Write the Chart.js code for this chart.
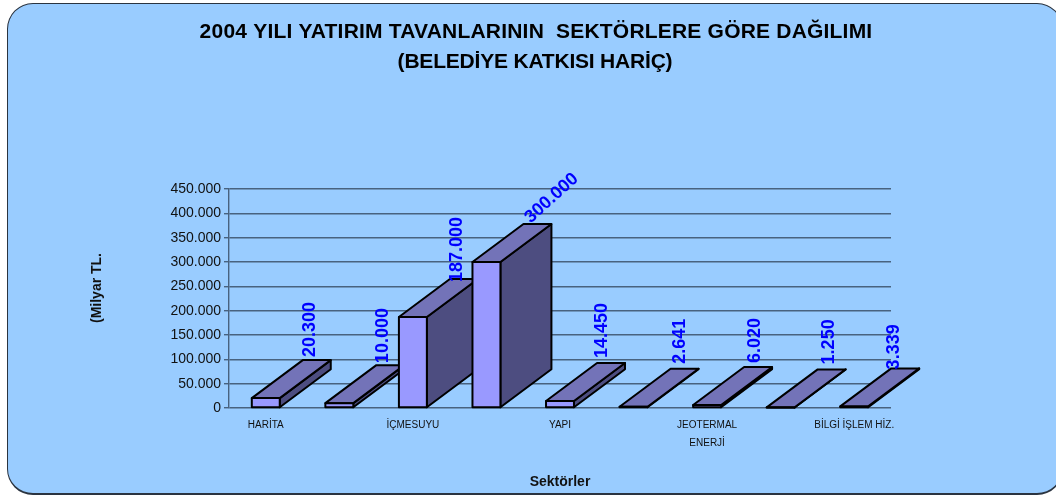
<!DOCTYPE html>
<html>
<head>
<meta charset="utf-8">
<script src="https://cdn.jsdelivr.net/npm/chart.js@4"></script>
<style>
  html, body { margin: 0; background: #fff; overflow: hidden; }
  #card {
    position: absolute; left: 7px; top: 3px; width: 1054px; height: 489px;
    background: #99ccff; border: solid #2b3440; border-width: 1px 1px 2px 1px; border-radius: 26px;
  }
  canvas { position: absolute; left: 0; top: 0; }
</style>
</head>
<body>
<div id="card"></div>
<canvas id="chart" width="1056" height="498"></canvas>
<script>
const titleLines = ["2004 YILI YATIRIM TAVANLARININ  SEKTÖRLERE GÖRE DAĞILIMI", "(BELEDİYE KATKISI HARİÇ)"];
const categories = ["HARİTA", "", "İÇMESUYU", "", "YAPI", "", ["JEOTERMAL", "ENERJİ"], "", "BİLGİ İŞLEM HİZ."];
const values = [20300, 10000, 187000, 300000, 14450, 2641, 6020, 1250, 3339];
const yTitle = "(Milyar TL.";
const xTitle = "Sektörler";

// label placement relative to the bar's top right corner
const labelOffsets = [[30, -41], [30, -40], [30, -35], [27, -42], [28, -43], [33, -43], [34, -42], [34, -43], [26, -37]];
const labelAngles = [-90, -90, -90, -42, -90, -90, -90, -90, -90];
const depthX = 51, depthY = -38;

const fontFamily = "'Liberation Sans', Arial, sans-serif";
const fmt = v => v.toLocaleString("tr-TR");

Chart.defaults.font.family = fontFamily;
Chart.defaults.color = "#111";

// bar controller that puts a side and a top face behind each bar
class Bar3D extends Chart.BarController {
  draw() {
    const ctx = this.chart.ctx;
    this.getMeta().data.forEach(bar => {
      const l = bar.x - bar.width / 2, r = bar.x + bar.width / 2;
      ctx.save();
      ctx.lineWidth = 2;
      ctx.lineJoin = "round";
      ctx.strokeStyle = "#000";
      ctx.fillStyle = "#4d4d80";
      ctx.beginPath();
      ctx.moveTo(r, bar.y);
      ctx.lineTo(r + depthX, bar.y + depthY);
      ctx.lineTo(r + depthX, bar.base + depthY);
      ctx.lineTo(r, bar.base);
      ctx.closePath();
      ctx.fill();
      ctx.stroke();
      ctx.fillStyle = "#7373b8";
      ctx.beginPath();
      ctx.moveTo(l, bar.y);
      ctx.lineTo(r, bar.y);
      ctx.lineTo(r + depthX, bar.y + depthY);
      ctx.lineTo(l + depthX, bar.y + depthY);
      ctx.closePath();
      ctx.fill();
      ctx.stroke();
      bar.draw(ctx);
      // outline straddles the bar edge, so very short bars still show as a black band
      ctx.strokeRect(l, bar.y, r - l, bar.base - bar.y);
      ctx.restore();
    });
  }
}
Bar3D.id = "bar3d";
Chart.register(Bar3D);

const valueLabels = {
  id: "valueLabels",
  afterDatasetsDraw(chart) {
    const ctx = chart.ctx;
    chart.getDatasetMeta(0).data.forEach((bar, i) => {
      ctx.save();
      ctx.translate(bar.x + bar.width / 2 + labelOffsets[i][0], bar.y + labelOffsets[i][1]);
      ctx.rotate(labelAngles[i] * Math.PI / 180);
      ctx.font = "bold 18px " + fontFamily;
      ctx.fillStyle = "#0000ff";
      ctx.textAlign = "left";
      ctx.textBaseline = "middle";
      ctx.fillText(fmt(values[i]), 0, 0);
      ctx.restore();
    });
  }
};

// the title is off-centre and the y title sits above the axis middle,
// the built in options can't place them there
const freeText = {
  id: "freeText",
  afterDraw(chart) {
    const ctx = chart.ctx;
    ctx.save();
    ctx.textAlign = "center";
    ctx.textBaseline = "middle";
    ctx.fillStyle = "#000";
    ctx.font = "bold 21px " + fontFamily;
    ctx.letterSpacing = "0.2px";
    ctx.fillText(titleLines[0], 536, 32);
    ctx.letterSpacing = "-0.2px";
    ctx.fillText(titleLines[1], 535, 62);
    ctx.letterSpacing = "0px";
    ctx.translate(97, 288);
    ctx.rotate(-Math.PI / 2);
    ctx.font = "bold 14px " + fontFamily;
    ctx.fillStyle = "#111";
    ctx.fillText(yTitle, 0, 0);
    ctx.restore();
  }
};

new Chart(document.getElementById("chart"), {
  type: "bar3d",
  data: {
    labels: categories,
    datasets: [{
      data: values,
      backgroundColor: "#9999ff",
      borderWidth: 0,
      barPercentage: 0.38,
      categoryPercentage: 1,
      clip: false
    }]
  },
  plugins: [valueLabels, freeText],
  options: {
    responsive: false,
    animation: false,
    layout: { padding: { left: 160, right: 165, top: 189, bottom: 7 } },
    plugins: {
      legend: { display: false },
      tooltip: { enabled: false }
    },
    scales: {
      x: {
        grid: { display: false },
        border: { display: false },
        ticks: { font: { size: 10, lineHeight: 1.8 }, autoSkip: false, maxRotation: 0, padding: 0 },
        title: { display: true, text: xTitle, color: "#111", font: { size: 14, weight: "bold" }, padding: 0 },
        afterFit(scale) { scale.height = 83; }
      },
      y: {
        min: 0,
        max: 450000,
        grid: { color: "#48627f", lineWidth: 1.4, tickLength: 5 },
        border: { color: "#48627f", width: 1.4 },
        ticks: { stepSize: 50000, font: { size: 14 }, padding: 3, callback: v => fmt(v) },
        afterFit(scale) { scale.width = 69; }
      }
    }
  }
});
</script>
</body>
</html>
